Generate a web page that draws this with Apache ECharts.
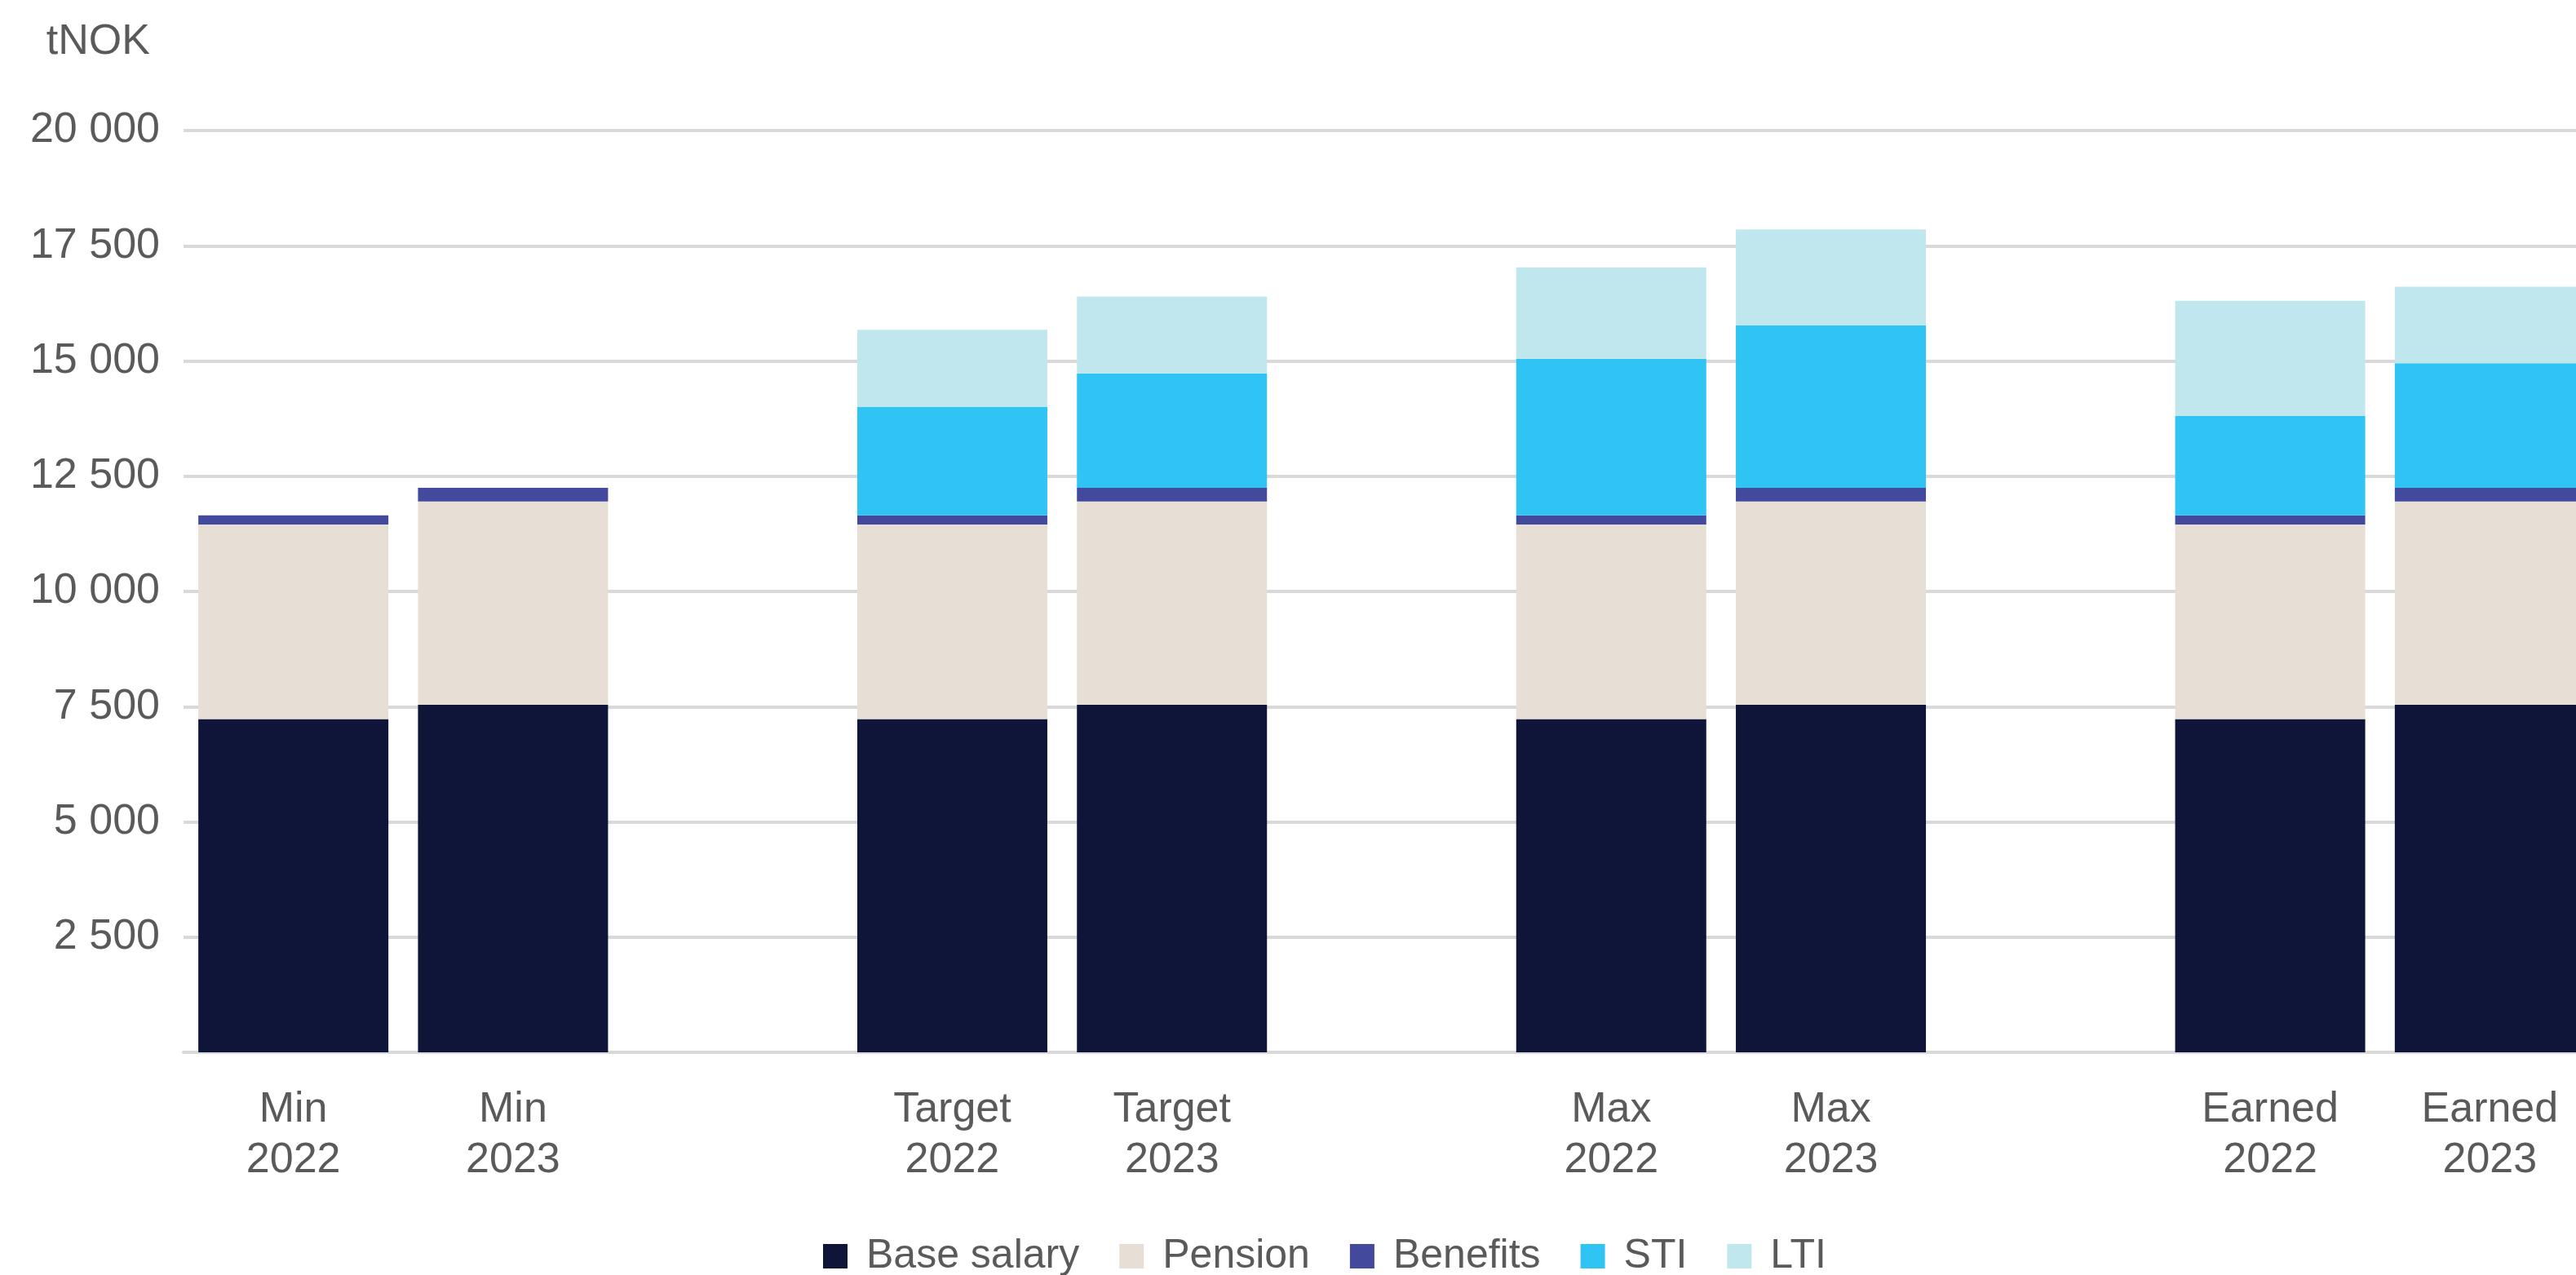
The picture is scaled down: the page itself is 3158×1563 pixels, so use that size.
<!DOCTYPE html>
<html>
<head>
<meta charset="utf-8">
<script src="https://cdn.jsdelivr.net/npm/echarts@6/dist/echarts.min.js"></script>
<style>
html,body{margin:0;padding:0;background:#fff;overflow:hidden;width:3158px;height:1563px;}
#chart{width:3200px;height:1563px;}
</style>
</head>
<body>
<div id="chart"></div>
<script>
// Categories (empty strings are spacer slots between groups)
const categories = ['Min\n2022','Min\n2023','','Target\n2022','Target\n2023','','Max\n2022','Max\n2023','','Earned\n2022','Earned\n2023'];
const seriesNames = ['Base salary','Pension','Benefits','STI','LTI'];
const baseSalary = [7230, 7540, null, 7230, 7540, null, 7230, 7540, null, 7230, 7540];
const pension    = [4220, 4410, null, 4220, 4410, null, 4220, 4410, null, 4220, 4410];
const benefits   = [200, 300, null, 200, 300, null, 200, 300, null, 200, 300];
const sti        = [null, null, null, 2350, 2480, null, 3400, 3520, null, 2155, 2700];
const lti        = [null, null, null, 1675, 1670, null, 1980, 2085, null, 2500, 1660];
const colors = ['#0e1538','#e7ded5','#434a9e','#30c4f4','#c1e7ee'];
const yUnit = 'tNOK';

const FONT = "'Liberation Sans', Arial, sans-serif";
const TEXT = '#5a5a5a';
const GRID = '#d9d9d9';

function fmt(v){
  if (v === 0) return '';
  return String(v).replace(/\B(?=(\d{3})+(?!\d))/g, ' ');
}

const dataSets = [baseSalary, pension, benefits, sti, lti];
const series = seriesNames.map((name, i) => ({
  name: name,
  type: 'bar',
  stack: 'total',
  barWidth: 233,
  data: dataSets[i],
  itemStyle: { color: colors[i] },
  emphasis: { disabled: true }
}));

const chart = echarts.init(document.getElementById('chart'), null, {renderer:'canvas'});
chart.setOption({
  animation: false,
  backgroundColor: '#ffffff',
  textStyle: { fontFamily: FONT },
  grid: { left: 225, top: 160, width: 2962, height: 1130, containLabel: false },
  legend: {
    data: seriesNames,
    left: 1004,
    top: 1510,
    icon: 'rect',
    itemWidth: 30,
    itemHeight: 30,
    itemGap: 49,
    textStyle: { fontFamily: FONT, fontSize: 50, color: TEXT, padding: [0,0,0,18] }
  },
  xAxis: {
    type: 'category',
    data: categories,
    axisTick: { show: false },
    axisLine: { show: true, lineStyle: { color: GRID, width: 4 } },
    axisLabel: {
      interval: 0,
      margin: 40,
      fontFamily: FONT,
      fontSize: 52,
      lineHeight: 62,
      color: TEXT
    }
  },
  yAxis: {
    type: 'value',
    min: 0,
    max: 20000,
    interval: 2500,
    name: yUnit,
    nameLocation: 'end',
    nameGap: 82,
    nameTextStyle: { fontFamily: FONT, fontSize: 52, color: TEXT, align: 'right', padding: [0, 41, 0, 0] },
    axisLine: { show: false },
    axisTick: { show: false },
    splitLine: { show: true, lineStyle: { color: GRID, width: 4 } },
    axisLabel: {
      margin: 29,
      fontFamily: FONT,
      fontSize: 52,
      color: TEXT,
      formatter: fmt
    }
  },
  series: series
});
</script>
</body>
</html>
